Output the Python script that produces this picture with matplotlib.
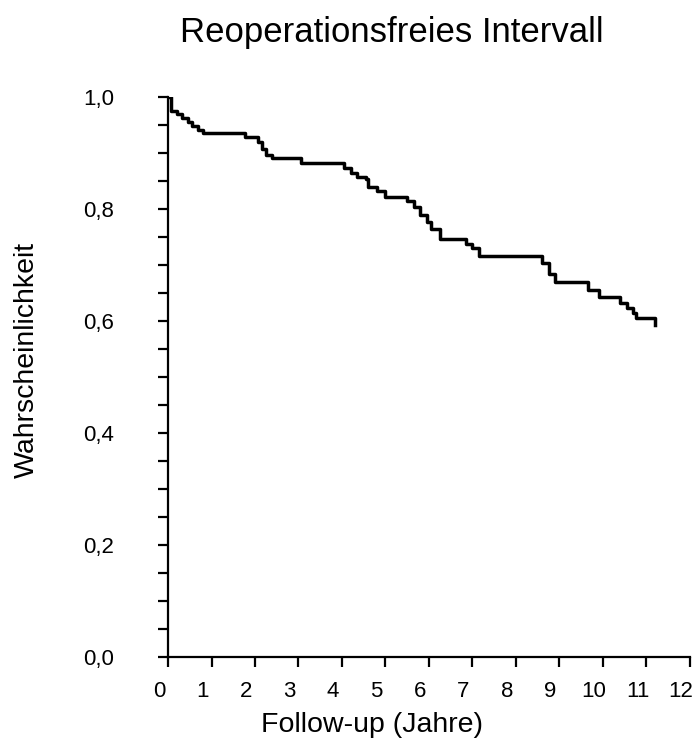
import numpy as np
import matplotlib.pyplot as plt
from matplotlib.ticker import MultipleLocator
import matplotlib.transforms as mtransforms

plt.rcParams['font.family'] = ['Liberation Sans', 'DejaVu Sans']

# Kaplan-Meier estimate (time in years, survival after each step)
years = [0.0, 0.07, 0.2, 0.33, 0.45, 0.55, 0.7, 0.8, 1.78, 2.06, 2.15, 2.25, 2.4,
         3.05, 4.05, 4.2, 4.35, 4.55, 4.6, 4.8, 5.0, 5.5, 5.65, 5.8, 5.95, 6.05,
         6.25, 6.85, 7.0, 7.15, 8.6, 8.75, 8.9, 9.65, 9.9, 10.38, 10.55, 10.7,
         10.75, 11.2]
surv = [1.0, 0.975, 0.970, 0.962, 0.955, 0.948, 0.941, 0.935, 0.929, 0.920, 0.907,
        0.897, 0.891, 0.883, 0.874, 0.865, 0.858, 0.853, 0.840, 0.832, 0.822, 0.814,
        0.803, 0.790, 0.777, 0.764, 0.746, 0.738, 0.730, 0.716, 0.704, 0.684, 0.669,
        0.656, 0.643, 0.632, 0.624, 0.614, 0.605, 0.592]

x_ticks = list(range(0, 13))
y_ticks = [0.0, 0.2, 0.4, 0.6, 0.8, 1.0]
y_labels = ['0,0', '0,2', '0,4', '0,6', '0,8', '1,0']

fig = plt.figure(figsize=(6.98, 7.49), dpi=100)
ax = fig.add_axes([168 / 698, 1 - 657 / 749, 522 / 698, 560 / 749])

ax.plot(years, surv, drawstyle='steps-post', color='black', lw=2.5)

ax.set_xlim(0, 12)
ax.set_ylim(0, 1)
ax.set_xticks(x_ticks)
ax.set_yticks(y_ticks)
ax.set_yticklabels(y_labels)
ax.yaxis.set_minor_locator(MultipleLocator(0.05))

for side in ['top', 'right']:
    ax.spines[side].set_visible(False)
for side in ['left', 'bottom']:
    ax.spines[side].set_linewidth(1.6)

ax.tick_params(axis='both', which='both', direction='out', length=7, width=1.6,
               labelsize=16, color='black')
ax.tick_params(axis='y', which='major', pad=32)
ax.tick_params(axis='x', which='major', pad=10)

# x tick labels sit slightly left of their ticks in the original
shift = mtransforms.ScaledTranslation(-9 / 100, 0, fig.dpi_scale_trans)
for lab in ax.get_xticklabels():
    lab.set_transform(lab.get_transform() + shift)

ax.set_xlabel('Follow-up (Jahre)', fontsize=20.5)
ax.xaxis.set_label_coords(0.391, -0.098)
ax.set_ylabel('Wahrscheinlichkeit', fontsize=20.5)
ax.yaxis.set_label_coords(-0.245, 0.53)
fig.text(0.561, 0.956, 'Reoperationsfreies Intervall', fontsize=25,
         ha='center', va='center')

fig.savefig('out.png', dpi=100)
